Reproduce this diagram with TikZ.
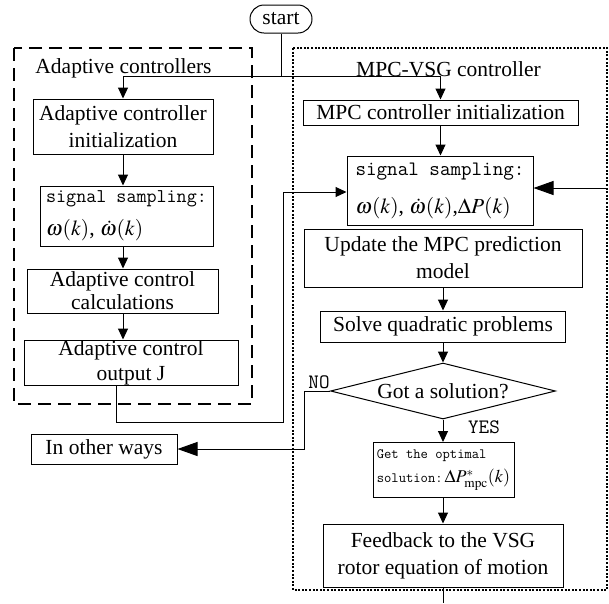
\documentclass[tikz,border=0pt]{standalone}
\usepackage{mathptmx}
\usepackage{fontspec}
\setmainfont{Liberation Serif}
\usetikzlibrary{arrows.meta,shapes.geometric}
\newcommand\mainsz{\fontsize{21.5}{27}\selectfont}
\newcommand\monoA{\ttfamily\fontsize{19.5}{22}\selectfont}
\newcommand\monoB{\ttfamily\fontsize{20.5}{23}\selectfont}
\newcommand\smallmono{\ttfamily\fontsize{14.2}{16}\selectfont}
\begin{document}
\begin{tikzpicture}[x=1pt,y=-1pt,
 box/.style={draw, line width=1pt, align=center, inner sep=0pt, font=\mainsz},
 arr/.style={line width=1pt, -{Triangle[length=11pt,width=10pt]}},
 bigarr/.style={line width=1pt, -{Triangle[length=20pt,width=14pt]}},
 ln/.style={line width=1pt},
 lbl/.style={font=\mainsz, inner sep=0pt, anchor=base},
 yn/.style={font=\ttfamily\fontsize{20.5}{24}\selectfont, inner sep=0pt}]
\useasboundingbox (0,0) rectangle (609,603);
% group frames
\draw[line width=1.6pt, dash pattern=on 13pt off 7pt] (14,48) rectangle (252,404);
\draw[line width=1.3pt, dash pattern=on 2pt off 1.6pt] (293,48) rectangle (607,590);
\node[lbl] (lA) at (123.5,73) {Adaptive controllers};
\node[lbl] (lM) at (448.5,76) {MPC-VSG controller};
% start
\node[draw, line width=1pt, rounded corners=14pt, minimum width=62pt, minimum height=28pt, inner sep=0pt, font=\mainsz] (st) at (281,19) {start};
% left column
\node[box, align=left, minimum width=180pt, minimum height=55pt, align=center] (b1) at (123,126.5) {Adaptive controller\\initialization};
\node[box, align=left, minimum width=173pt, minimum height=60pt, inner xsep=2pt] (s1) at (126.5,216)
  {{\monoA signal sampling:}\\[6pt] $\omega(k)$, $\dot{\omega}(k)$};
\node[box, minimum width=191pt, minimum height=44pt, font=\fontsize{21.5}{23}\selectfont] (c1) at (122.5,291) {Adaptive control\\calculations};
\node[box, minimum width=214pt, minimum height=45pt, font=\fontsize{21.5}{25}\selectfont] (o1) at (131,362.5) {Adaptive control\\output J};
\node[box, minimum width=146pt, minimum height=30pt] (w1) at (104,449) {In other ways};
% right column
\node[box, minimum width=275pt, minimum height=25pt] (m1) at (440.5,112.5) {MPC controller initialization};
\node[box, align=left, minimum width=186pt, minimum height=69pt, inner xsep=3pt] (s2) at (440,190.5)
  {{\monoB signal sampling:}\\[11pt] $\omega(k)$, $\dot{\omega}(k)$,$\Delta P(k)$};
\node[box, minimum width=278pt, minimum height=58pt] (u1) at (443,258) {Update the MPC prediction\\model};
\node[box, minimum width=245pt, minimum height=31pt] (q1) at (443,326.5) {Solve quadratic problems};
\node[draw, diamond, aspect=4, inner sep=0pt, line width=1pt, font=\mainsz, minimum width=225pt, minimum height=56pt] (d) at (443,391) {Got a solution?};
\node[box, align=left, minimum width=141pt, minimum height=55pt, inner xsep=2pt] (o2) at (443.5,470)
  {{\smallmono Get the optimal}\\[-3pt] {\smallmono solution:}{\fontsize{18}{20}\selectfont$\,\Delta P^{*}_{\mathrm{mpc}}(k)$}};
\node[box, minimum width=240pt, minimum height=63pt] (f1) at (443,555.5) {Feedback to the VSG\\rotor equation of motion};
\node[yn] (no) at (319,382) {NO};
\node[yn] (yes) at (484,427) {YES};
% coordinates
\coordinate (jn) at (281,76);
\coordinate (fb1) at (116,422);
\coordinate (fb2) at (283,422);
\coordinate (fb3) at (283,192);
\coordinate (nw) at (304,449);
\coordinate (ri) at (607,188);
\coordinate (endp) at (443,603);
% connectors
\draw[ln] (st.south) -- (jn);
\draw[arr] (jn) -| (b1.north);
\draw[arr] (jn) -| (m1.north);
\draw[arr] (b1.south) -- (b1.south |- s1.north);
\draw[arr] (b1.south |- s1.south) -- (b1.south |- c1.north);
\draw[arr] (b1.south |- c1.south) -- (b1.south |- o1.north);
\draw[arr] (o1.south -| fb1) -- (fb1) -- (fb2) -- (fb3) -- (fb3 -| s2.west);
\draw[arr] (m1.south) -- (m1.south |- s2.north);
\draw[bigarr] (ri) -- (ri -| s2.east);
\draw[arr] (u1.south) -- (q1.north);
\draw[arr] (q1.south) -- (d.north);
\draw[arr] (d.south) -- (o2.north -| d.south);
\draw[arr] (o2.south -| d.south) -- (f1.north -| d.south);
\draw[ln] (f1.south) -- (endp);
\draw[bigarr] (d.west) -| (nw) -- (nw -| w1.east);
\end{tikzpicture}
\end{document}
